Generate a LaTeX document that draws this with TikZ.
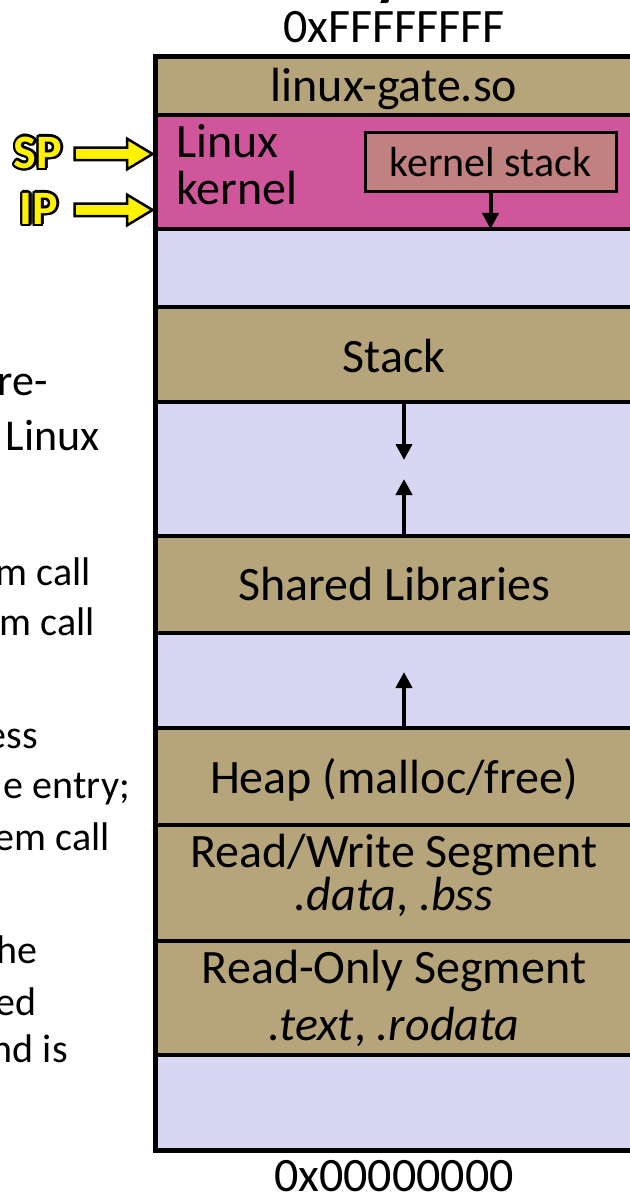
\documentclass[tikz,border=0pt]{standalone}
\usepackage{fontspec}
\setmainfont{Carlito}
\usepackage{contour}
\contourlength{2.5pt}
\usetikzlibrary{arrows.meta,shapes.arrows}
\definecolor{segtan}{RGB}{182,165,122}
\definecolor{kernpink}{RGB}{207,86,155}
\definecolor{kstack}{RGB}{193,129,128}
\definecolor{freelav}{RGB}{215,215,243}
\begin{document}
\begin{tikzpicture}[x=1pt,y=-1pt,
    row/.style={draw=black,line width=3.5pt,minimum width=478pt,inner sep=0pt,outer sep=0pt},
    big/.style={font=\fontsize{48}{52}\selectfont,inner sep=0pt},
    note/.style={anchor=base east,inner sep=0pt},
    growarrow/.style={line width=4pt,-{Triangle[length=16pt,width=16pt]}},
    ptr/.style={single arrow,fill=yellow,draw=black,line width=2.5pt,minimum height=78pt,
        inner xsep=0pt,inner ysep=5pt,single arrow head extend=9pt,single arrow tip angle=62,
        anchor=tip},
    reg/.style={font=\fontsize{48}{52}\selectfont\bfseries,text=yellow,inner sep=0pt}]
\useasboundingbox (0,0) rectangle (629,1198);

% title cut off at the top
\node[font=\fontsize{64}{64}\selectfont\bfseries,anchor=base] (title) at (390,-6) {y};

% segments, high address to low address
\foreach \nm/\c/\h/\col in {gate/86/58/segtan,kern/172/114/kernpink,free1/268/78/freelav,
    stack/354.5/95/segtan,free2/469/134/freelav,shlib/584.5/97/segtan,free3/680.5/95/freelav,
    heap/776.5/97/segtan,rw/883/116/segtan,ro/998/114/segtan,free4/1102.5/95/freelav}
  \node[row,fill=\col,minimum height=\h] (\nm) at (394,\c) {};
\draw[line width=5pt] (gate.north west) rectangle (free4.south east);

\node[big,anchor=base] (hiAddr) at (394,43) {0xFFFFFFFF};
\node[big,anchor=base] (loAddr) at (394,1191) {0x00000000};
\node[big,anchor=base] (gateTxt) at (394,102) {linux-gate.so};
\node[big,anchor=base west,align=left,font=\fontsize{48}{47}\selectfont] (kernTxt) at (176,205)
    {Linux\\kernel};
\node[draw,line width=3pt,fill=kstack,minimum width=251pt,minimum height=59pt,inner sep=0pt,
    font=\fontsize{42}{44}\selectfont] (kstk) at (490.5,162.5) {kernel stack};
\node[big,anchor=base] (stackTxt) at (394,372) {Stack};
\node[big,anchor=base] (shlibTxt) at (394,600) {Shared Libraries};
\node[big,anchor=base] (heapTxt) at (394,793) {Heap (malloc/free)};
\node[big,anchor=base,align=center,font=\fontsize{48}{40}\selectfont] (rwTxt) at (394,910)
    {Read/Write Segment\\\textit{.data}, \textit{.bss}};
\node[big,anchor=base,align=center,font=\fontsize{48}{57}\selectfont] (roTxt) at (394,1040)
    {Read-Only Segment\\\textit{.text}, \textit{.rodata}};

% growth arrows
\coordinate (kTip) at (kstk.south |- kern.south);
\draw[growarrow] (kstk.south) -- (kTip);
\coordinate (stackTip) at (404,460);
\coordinate (mapTip) at (404,479);
\coordinate (heapTip) at (404,672);
\draw[growarrow] (stackTip |- stack.south) -- (stackTip);
\draw[growarrow] (mapTip |- free2.south) -- (mapTip);
\draw[growarrow] (heapTip |- heap.north) -- (heapTip);

% registers
\node[reg] (sp) at (38,154) {\contour{black}{SP}};
\node[reg] (ip) at (39,210) {\contour{black}{IP}};
\node[ptr] (spArrow) at (kern.west |- sp) {};
\node[ptr] (ipArrow) at (kern.west |- ip) {};

% text of the slide, cut at the left edge
\node[note,font=\fontsize{44}{48}\selectfont] (n1) at (48,395) {re-};
\node[note,font=\fontsize{44}{48}\selectfont] (n2) at (100,450) {Linux};
\node[note,font=\fontsize{40}{48}\selectfont] (n3) at (91,585) {m call};
\node[note,font=\fontsize{40}{48}\selectfont] (n4) at (95,635) {m call};
\node[note,font=\fontsize{40}{48}\selectfont] (n5) at (38,748) {ess};
\node[note,font=\fontsize{40}{48}\selectfont] (n6) at (130,798) {e entry;};
\node[note,font=\fontsize{40}{48}\selectfont] (n7) at (110,850) {em call};
\node[note,font=\fontsize{40}{48}\selectfont] (n8) at (38,963) {he};
\node[note,font=\fontsize{40}{48}\selectfont] (n9) at (37,1015) {ed};
\node[note,font=\fontsize{40}{48}\selectfont] (n10) at (68,1062) {nd is};
\end{tikzpicture}
\end{document}
